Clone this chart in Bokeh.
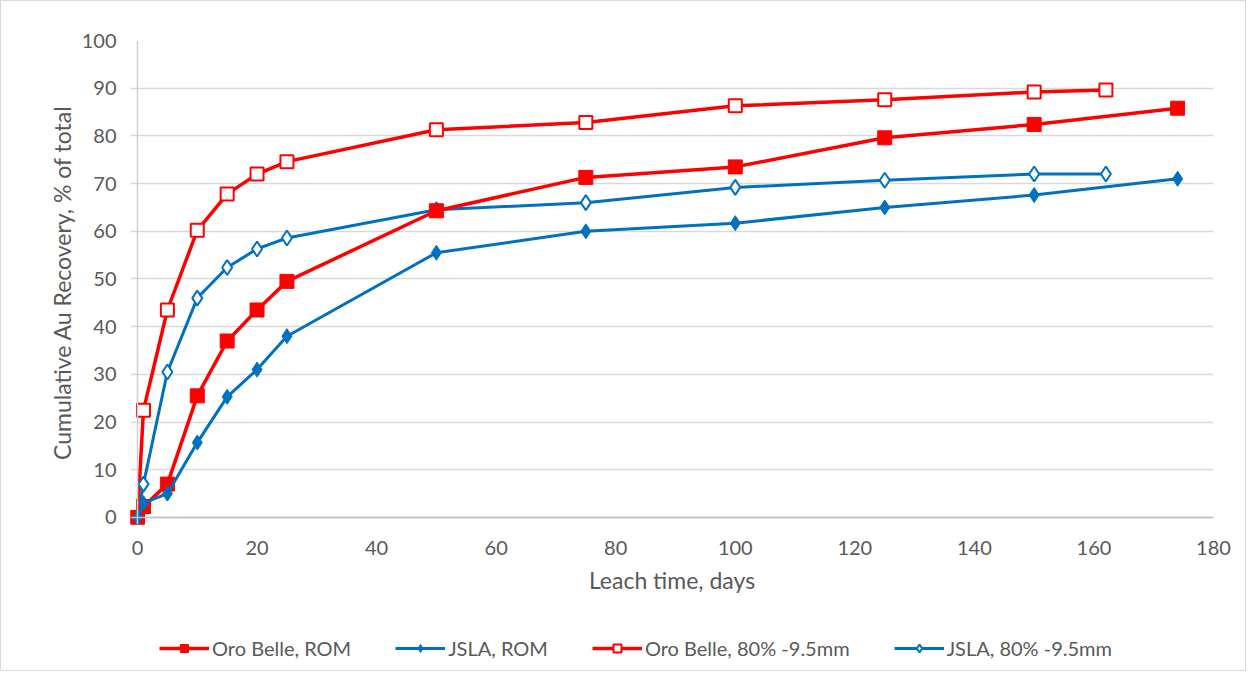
from bokeh.plotting import figure
from bokeh.models import Range1d, Legend, LegendItem, FixedTicker, Span
from bokeh.layouts import column
from bokeh.embed import file_html
from bokeh.resources import INLINE

days_rom = [0, 1, 5, 10, 15, 20, 25, 50, 75, 100, 125, 150, 174]
days_fine = [0, 1, 5, 10, 15, 20, 25, 50, 75, 100, 125, 150, 162]
oro_rom = [0, 2.3, 7.0, 25.5, 37.0, 43.5, 49.5, 64.3, 71.3, 73.5, 79.6, 82.4, 85.8]
jsla_rom = [0, 3.0, 5.0, 15.7, 25.3, 31.0, 38.0, 55.5, 60.0, 61.7, 65.0, 67.6, 71.0]
oro_fine = [0, 22.5, 43.5, 60.2, 67.8, 72.0, 74.6, 81.3, 82.8, 86.3, 87.6, 89.2, 89.6]
jsla_fine = [0, 7.0, 30.5, 46.0, 52.4, 56.3, 58.6, 64.5, 66.0, 69.2, 70.7, 72.0, 72.0]
x_ticks = [0, 20, 40, 60, 80, 100, 120, 140, 160, 180]
y_ticks = [0, 10, 20, 30, 40, 50, 60, 70, 80, 90, 100]
labels = ["Oro Belle, ROM", "JSLA, ROM", "Oro Belle, 80% -9.5mm", "JSLA, 80% -9.5mm"]

RED = "#FF0000"
BLUE = "#0070C0"
FONT = "Lato"
GRAY = "#595959"

series = [
    dict(x=days_rom, y=oro_rom, color=RED, lw=3.5, marker="square", size=14, fill=RED, mlw=1),
    dict(x=days_rom, y=jsla_rom, color=BLUE, lw=3, marker="diamond", size=15, fill=BLUE, mlw=1),
    dict(x=days_fine, y=oro_fine, color=RED, lw=3.5, marker="square", size=13, fill="white", mlw=2),
    dict(x=days_fine, y=jsla_fine, color=BLUE, lw=3, marker="diamond", size=15, fill="white", mlw=2),
]

p = figure(width=1244, height=599, output_backend="svg", toolbar_location=None,
           x_range=Range1d(-1.17, 180), y_range=Range1d(-1.47, 100),
           min_border_left=129, min_border_right=32, min_border_top=39,
           min_border_bottom=76,
           background_fill_color="white", border_fill_color="white")
p.outline_line_color = None
p.xgrid.grid_line_color = None
p.ygrid.grid_line_color = "#d9d9d9"
p.ygrid.grid_line_width = 1.5

p.xaxis.ticker = FixedTicker(ticks=x_ticks)
p.yaxis.ticker = FixedTicker(ticks=y_ticks)
for ax in (p.xaxis[0], p.yaxis[0]):
    ax.axis_line_color = None
    ax.major_tick_line_color = None
    ax.minor_tick_line_color = None
    ax.major_label_text_font = FONT
    ax.major_label_text_font_size = "20px"
    ax.major_label_text_color = GRAY
    ax.axis_label_text_font = FONT
    ax.axis_label_text_font_size = "23px"
    ax.axis_label_text_color = GRAY
    ax.axis_label_text_font_style = "normal"
p.xaxis.axis_label = "Leach time, days"
p.yaxis.axis_label = "Cumulative Au Recovery, % of total"
p.xaxis.major_label_standoff = 10
p.yaxis.major_label_standoff = 8
p.xaxis.axis_label_standoff = 8
p.yaxis.axis_label_standoff = 3

p.add_layout(Span(location=0, dimension="height", line_color="#d0d0d0", line_width=1.5))
p.add_layout(Span(location=0, dimension="width", line_color="#bfbfbf", line_width=1.5))

# draw hollow series first so filled markers sit on top at the origin
for i in (2, 3, 0, 1):
    s = series[i]
    p.line(s["x"], s["y"], line_color=s["color"], line_width=s["lw"])
    p.scatter(s["x"], s["y"], marker=s["marker"], size=s["size"], fill_color=s["fill"],
              line_color=s["color"], line_width=s["mlw"])

# legend strip (its ranges leave the series out of view; only the legend shows)
q = figure(width=1244, height=70, output_backend="svg", toolbar_location=None,
           x_range=Range1d(-20, -10), y_range=Range1d(-20, -10),
           x_axis_type=None, y_axis_type=None,
           min_border_left=0, min_border_right=0, min_border_top=0, min_border_bottom=0,
           background_fill_color="white", border_fill_color="white")
q.outline_line_color = None
q.xgrid.grid_line_color = None
q.ygrid.grid_line_color = None

items = []
for lab, s in zip(labels, series):
    ln = q.line(s["x"], s["y"], line_color=s["color"], line_width=s["lw"])
    sc = q.scatter(s["x"], s["y"], marker=s["marker"], size=s["size"], fill_color=s["fill"],
                   line_color=s["color"], line_width=s["mlw"])
    items.append(LegendItem(label=lab, renderers=[ln, sc]))

legend = Legend(items=items, orientation="horizontal", location=(29, 10),
                label_text_font=FONT, label_text_font_size="20px", label_text_color=GRAY,
                glyph_width=50, glyph_height=20, label_standoff=3, spacing=44,
                border_line_color=None, background_fill_alpha=0, margin=0, padding=4)
q.add_layout(legend, "center")

layout = column(p, q, spacing=0)
layout.styles = {"border": "1px solid #d9d9d9"}

open("out.html", "w").write(file_html(layout, INLINE))
